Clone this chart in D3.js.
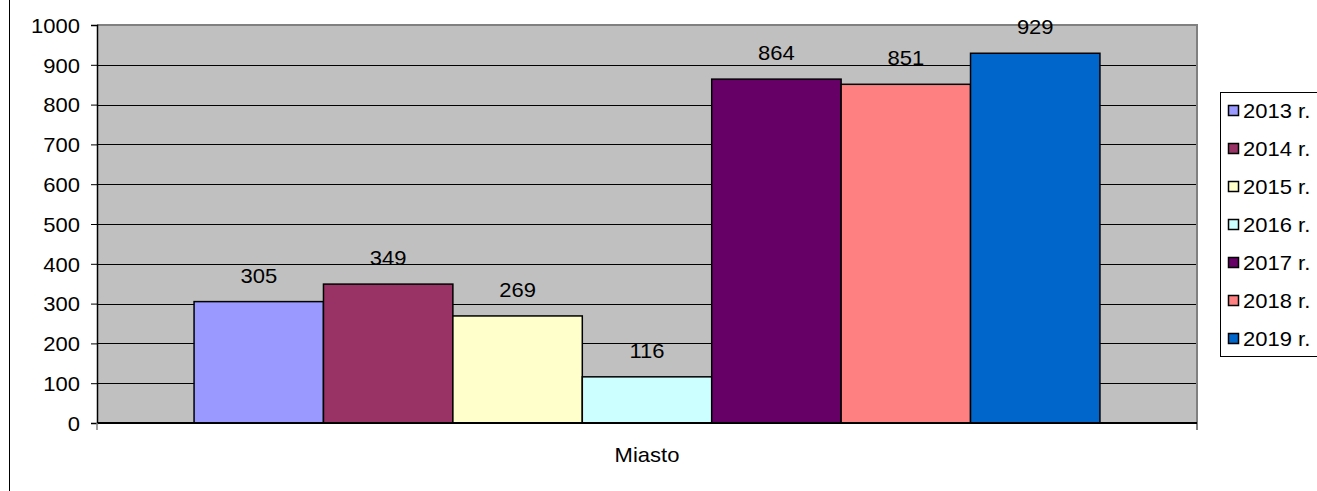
<!DOCTYPE html>
<html>
<head>
<meta charset="utf-8">
<script src="https://cdn.jsdelivr.net/npm/d3@7"></script>
<style>
  html, body { margin: 0; padding: 0; background: #fff; }
  svg { display: block; }
  text { font-family: "Liberation Sans", Arial, sans-serif; fill: #000; }
</style>
</head>
<body>
<svg id="chart" width="1317" height="491"></svg>
<script>
const categories = ["Miasto"];
const seriesNames = ["2013 r.", "2014 r.", "2015 r.", "2016 r.", "2017 r.", "2018 r.", "2019 r."];
const seriesValues = [305, 349, 269, 116, 864, 851, 929];
const seriesColors = ["#9999ff", "#993366", "#ffffcc", "#ccffff", "#660066", "#ff8080", "#0066cc"];
const yTicks = [0, 100, 200, 300, 400, 500, 600, 700, 800, 900, 1000];

const svg = d3.select("#chart");
const plot = { left: 97, right: 1197, top: 25, bottom: 423 };
const FS = 20, SX = 1.1;

// outer frame line
svg.append("line").attr("x1", 9.5).attr("x2", 9.5).attr("y1", 0).attr("y2", 491)
  .attr("stroke", "#000").attr("stroke-width", 1);

const y = d3.scaleLinear().domain([0, 1000]).range([plot.bottom, plot.top]);
const x0 = d3.scaleBand().domain(categories).range([plot.left, plot.right])
  .paddingInner(0).paddingOuter(0.75 / 7);
const x1 = d3.scaleBand().domain(seriesNames).range([0, x0.bandwidth()]).padding(0);

// plot background
svg.append("rect").attr("x", plot.left).attr("y", plot.top)
  .attr("width", plot.right - plot.left).attr("height", plot.bottom - plot.top)
  .attr("fill", "#c0c0c0");

// gridlines
svg.append("g").selectAll("line").data(yTicks.filter(t => t > 0 && t < 1000)).join("line")
  .attr("x1", plot.left).attr("x2", plot.right)
  .attr("y1", d => Math.round(y(d)) + 0.5).attr("y2", d => Math.round(y(d)) + 0.5)
  .attr("stroke", "#000").attr("stroke-width", 1);

// plot border top/right (grey)
svg.append("path")
  .attr("d", `M${plot.left},${plot.top} H${plot.right} V${plot.bottom + 7}`)
  .attr("fill", "none").attr("stroke", "#808080").attr("stroke-width", 2);

// bars
const g = svg.append("g").attr("transform", `translate(${x0("Miasto")},0)`);
const data = seriesNames.map((s, i) => ({ s, v: seriesValues[i], c: seriesColors[i] }));
g.selectAll("rect").data(data).join("rect")
  .attr("x", d => x1(d.s)).attr("width", x1.bandwidth())
  .attr("y", d => y(d.v)).attr("height", d => y(0) - y(d.v))
  .attr("fill", d => d.c).attr("stroke", "#000").attr("stroke-width", 1.5);

// value labels
g.selectAll("text.val").data(data).join("text").attr("class", "val")
  .attr("transform", d => `translate(${x1(d.s) + x1.bandwidth() / 2},${y(d.v) - 19}) scale(${SX},1)`)
  .attr("text-anchor", "middle").attr("font-size", FS).text(d => d.v);

// y axis
const yAxis = d3.axisLeft(y).tickValues(yTicks).tickFormat(d3.format("d")).tickSize(6).tickPadding(11);
const ya = svg.append("g").attr("transform", `translate(${plot.left},0)`).call(yAxis);
ya.select(".domain").attr("stroke", "#000").attr("stroke-width", 1.5);
ya.selectAll(".tick line").attr("stroke", "#000");
ya.selectAll(".tick text").attr("font-size", FS).attr("font-family", "Liberation Sans, Arial, sans-serif")
  .attr("fill", "#000").attr("dy", "0.36em")
  .each(function() {
    const t = d3.select(this);
    const xx = +t.attr("x");
    t.attr("x", null).attr("transform", `translate(${xx},0) scale(${SX},1)`);
  });

// x axis
const xAxis = d3.axisBottom(x0).tickSize(0).tickPadding(0);
const xa = svg.append("g").attr("transform", `translate(0,${plot.bottom})`).call(xAxis);
xa.select(".domain").attr("stroke", "#000").attr("stroke-width", 2)
  .attr("d", `M${plot.left},0 H${plot.right}`);
xa.selectAll(".tick text").attr("font-size", FS).attr("font-family", "Liberation Sans, Arial, sans-serif")
  .attr("fill", "#000").attr("y", null).attr("dy", null)
  .attr("transform", `translate(0,39) scale(${SX},1)`);
// category axis end ticks
svg.append("g").selectAll("line").data([plot.left]).join("line")
  .attr("x1", d => d).attr("x2", d => d).attr("y1", plot.bottom).attr("y2", plot.bottom + 7)
  .attr("stroke", "#808080").attr("stroke-width", 1.5);

// legend
const legend = svg.append("g");
legend.append("rect").attr("x", 1220.5).attr("y", 92.5).attr("width", 120).attr("height", 264)
  .attr("fill", "#fff").attr("stroke", "#000").attr("stroke-width", 1);
const rowY = d3.scalePoint().domain(seriesNames).range([110.5, 338.5]);
const items = legend.selectAll("g.item").data(data).join("g").attr("class", "item")
  .attr("transform", d => `translate(0,${rowY(d.s)})`);
items.append("rect").attr("x", 1228.5).attr("y", -5).attr("width", 10).attr("height", 10)
  .attr("fill", d => d.c).attr("stroke", "#000").attr("stroke-width", 1.5);
items.append("text").attr("transform", `translate(1243,0) scale(${SX},1)`)
  .attr("dy", "0.36em").attr("font-size", FS).text(d => d.s);
</script>
</body>
</html>
